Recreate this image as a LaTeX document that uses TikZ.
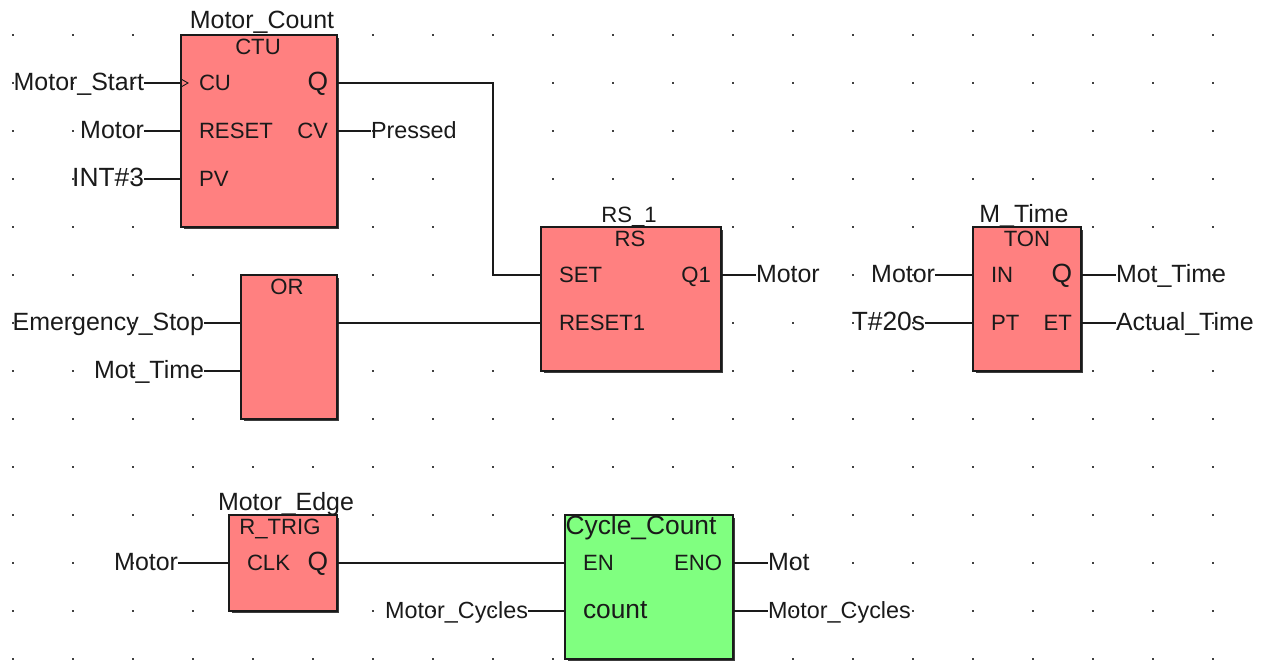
\documentclass[tikz,border=0pt]{standalone}
\usepackage{fontspec}
\setmainfont{Liberation Sans}
\usetikzlibrary{calc,shadows}
\definecolor{fbred}{HTML}{FF8080}
\definecolor{fbgreen}{HTML}{80FF80}
\definecolor{ink}{HTML}{1A1A1A}
\newcommand{\capsfont}{\fontsize{12.6}{15}\selectfont}
\tikzset{
  every node/.style={font=\fontsize{14.2}{16}\selectfont, text=ink},
  fb/.style={draw=ink, fill=fbred, line width=0.85pt, inner sep=0pt, outer sep=0pt,
    drop shadow={shadow xshift=0.05cm, shadow yshift=-0.05cm, fill=ink, opacity=0.85}},
  fc/.style={fb, fill=fbgreen},
  var/.style={inner sep=0pt, outer sep=0pt, text height=0.28cm, text depth=0pt},
  invar/.style={var, anchor=east},
  outvar/.style={var, anchor=west},
  pin/.style={var, anchor=west, font=\capsfont},
  qpin/.style={var, anchor=east, font=\capsfont},
  title/.style={var},
  fbtype/.style={var, font=\capsfont},
  tight/.style={font=\fontsize{13.3}{15}\selectfont},
  wide/.style={font=\fontsize{15}{17}\selectfont},
  wire/.style={draw=ink, line width=0.85pt},
  griddot/.style={fill=black!75},
}

\begin{document}
\begin{tikzpicture}[x=0.02cm, y=-0.02cm]
\path[use as bounding box, fill=white] (0,0) rectangle (1265,660);

% ───────────── grid ─────────────
\foreach \gx in {13,73,...,1213}
  \foreach \gy in {35,83,...,659}
    \fill[griddot] (\gx-1,\gy-1) rectangle (\gx+1,\gy+1);

% ───────────── blocks ─────────────
\node[fb, minimum width=3.12cm, minimum height=3.84cm] (ctu) at (259,131) {};
\node[fb, minimum width=3.60cm, minimum height=2.88cm] (rs) at (631,299) {};
\node[fb, minimum width=1.92cm, minimum height=2.88cm] (orgate) at (289,347) {};
\node[fb, minimum width=2.16cm, minimum height=2.88cm] (ton) at (1027,299) {};
\node[fb, minimum width=2.16cm, minimum height=1.92cm] (rtrig) at (283,563) {};
\node[fc, minimum width=3.36cm, minimum height=2.88cm] (cycle) at (649,587) {};

% block titles and instance names
\node[title] (ctuname) at (262,21) {Motor\_Count};
\node[fbtype] (ctutype) at (258,47) {CTU};
\node[fbtype] (rsname) at (629,215) {RS\_1};
\node[fbtype] (rstype) at (630,239) {RS};
\node[fbtype] (ortype) at (287,287) {OR};
\node[title] (tonname) at (1024,215) {M\_Time};
\node[fbtype] (tontype) at (1027,239) {TON};
\node[title] (rtrigname) at (286,503) {Motor\_Edge};
\node[fbtype] (rtrigtype) at (280,527) {R\_TRIG};
\node[title, wide] (cycletype) at (641,527) {Cycle\_Count};

% pins
\node[pin] (ctucu) at (199,83) {CU};
\node[pin] (ctureset) at (199,131) {RESET};
\node[pin] (ctupv) at (199,179) {PV};
\node[qpin, wide] (ctuq) at (328,83) {Q};
\node[qpin] (ctucv) at (328,131) {CV};
\node[pin] (rsset) at (559,275) {SET};
\node[pin] (rsreset) at (559,323) {RESET1};
\node[qpin] (rsq) at (711,275) {Q1};
\node[pin] (tonin) at (991,275) {IN};
\node[pin] (tonpt) at (991,323) {PT};
\node[qpin, wide] (tonq) at (1072,275) {Q};
\node[qpin] (tonet) at (1072,323) {ET};
\node[pin] (rtrigclk) at (247,563) {CLK};
\node[qpin, wide] (rtrigq) at (328,563) {Q};
\node[pin] (cycleen) at (583,563) {EN};
\node[pin, wide] (cyclecount) at (583,611) {count};
\node[qpin] (cycleeno) at (722,563) {ENO};

% variables
\node[invar] (start) at (144,83) {Motor\_Start};
\node[invar] (motora) at (144,131) {Motor};
\node[invar, wide] (three) at (144,179) {INT\#3};
\node[outvar, tight] (pressed) at (371,131) {Pressed};
\node[invar] (estop) at (204,323) {Emergency\_Stop};
\node[invar] (mottimea) at (204,371) {Mot\_Time};
\node[outvar] (motorb) at (756,275) {Motor};
\node[invar] (motorc) at (935,275) {Motor};
\node[invar, wide] (preset) at (925,323) {T\#20s};
\node[outvar] (mottimeb) at (1116,275) {Mot\_Time};
\node[outvar] (actual) at (1116,323) {Actual\_Time};
\node[invar] (motord) at (178,563) {Motor};
\node[invar, tight] (cyclesa) at (528,611) {Motor\_Cycles};
\node[outvar] (mot) at (768,563) {Mot};
\node[outvar, tight] (cyclesb) at (768,611) {Motor\_Cycles};

% ───────────── wires ─────────────
\coordinate (bend) at (493,275);
\draw[wire] (start.east) -- (start.east -| ctu.west);
\draw[wire] (motora.east) -- (motora.east -| ctu.west);
\draw[wire] (three.east) -- (three.east -| ctu.west);
\draw[wire] (ctucv.east -| ctu.east) -- (pressed.west);
\draw[wire] (ctuq.east -| ctu.east) -| (bend) -- (rsset.west -| rs.west);
\draw[wire] (estop.east) -- (estop.east -| orgate.west);
\draw[wire] (mottimea.east) -- (mottimea.east -| orgate.west);
\draw[wire] (rsreset.west -| orgate.east) -- (rsreset.west -| rs.west);
\draw[wire] (rsq.east -| rs.east) -- (motorb.west);
\draw[wire] (motorc.east) -- (motorc.east -| ton.west);
\draw[wire] (preset.east) -- (preset.east -| ton.west);
\draw[wire] (tonq.east -| ton.east) -- (mottimeb.west);
\draw[wire] (tonet.east -| ton.east) -- (actual.west);
\draw[wire] (motord.east) -- (motord.east -| rtrig.west);
\draw[wire] (rtrigq.east -| rtrig.east) -- (rtrigq.east -| cycle.west);
\draw[wire] (cyclesa.east) -- (cyclesa.east -| cycle.west);
\draw[wire] (cycleeno.east -| cycle.east) -- (mot.west);
\draw[wire] (cyclesb.west -| cycle.east) -- (cyclesb.west);
% edge input marker
\draw[draw=ink, line width=0.5pt] ($(ctucu.west -| ctu.west)+(0,-4)$) -- ++(7,4) -- ++(-7,4);

\end{tikzpicture}
\end{document}
